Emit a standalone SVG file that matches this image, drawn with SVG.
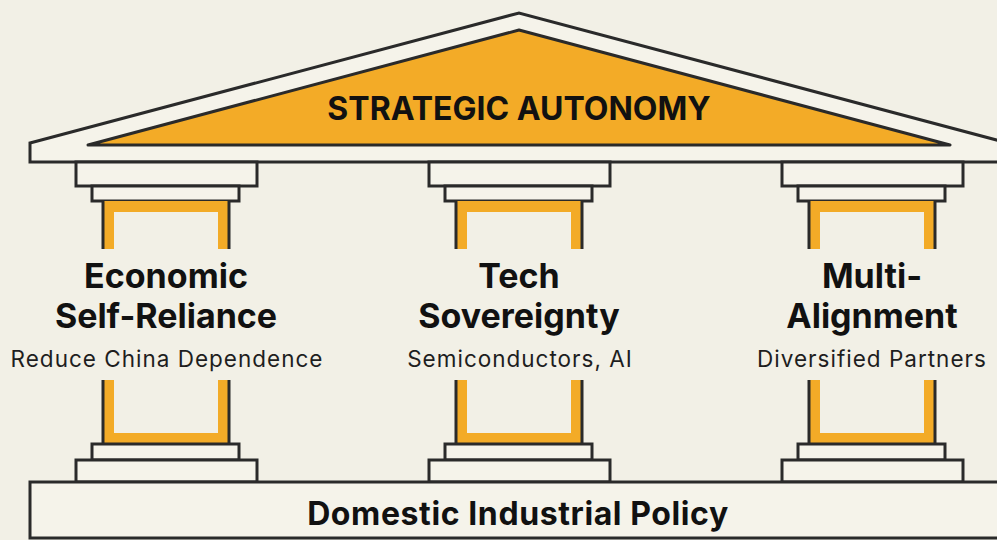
<svg xmlns="http://www.w3.org/2000/svg" width="997" height="540" viewBox="0 0 997 540">
  <style>
    .ln { stroke: #2a2a2a; stroke-width: 3; stroke-linejoin: miter; }
    .slab { fill: #f5f3ea; stroke: #2a2a2a; stroke-width: 3; }
    .orange { fill: #f3ab27; }
    .bg { fill: #f2f0e6; }
    .edge { stroke: #2a2a2a; stroke-width: 3; fill: none; }
    .head { font-family: Inter, "Liberation Sans", sans-serif; font-weight: 700; fill: #111; text-anchor: middle; }
    .sub { font-family: Inter, "Liberation Sans", sans-serif; font-weight: 400; fill: #1e1e1e; text-anchor: middle; font-size: 22.5px; letter-spacing: 1px; }
  </style>
  <defs>
    <g id="column">
      <!-- capital -->
      <rect class="slab" x="-90" y="162" width="181" height="24"/>
      <rect class="slab" x="-74" y="186" width="147" height="15"/>
      <!-- upper shaft -->
      <rect class="orange" x="-63" y="201" width="126" height="48"/>
      <rect class="bg" x="-52" y="212" width="104" height="38"/>
      <line class="edge" x1="-63" y1="201" x2="-63" y2="249"/>
      <line class="edge" x1="63" y1="201" x2="63" y2="249"/>
      <!-- lower shaft -->
      <rect class="orange" x="-63" y="380" width="126" height="64"/>
      <rect class="bg" x="-52" y="379" width="104" height="54"/>
      <line class="edge" x1="-63" y1="380" x2="-63" y2="444"/>
      <line class="edge" x1="63" y1="380" x2="63" y2="444"/>
      <!-- base -->
      <rect class="slab" x="-74" y="444" width="147" height="16"/>
      <rect class="slab" x="-90" y="460" width="181" height="22"/>
    </g>
  </defs>
  <rect width="997" height="540" fill="#f2f0e6"/>

  <g id="roof">
    <polygon class="slab" points="30,143 519,13 1008,143 1008,162 30,162"/>
    <polygon points="88,145 519,30 950,145" fill="#f3ab27" stroke="#2a2a2a" stroke-width="3" stroke-linejoin="round"/>
    <text class="head" x="519" y="120" font-size="32">STRATEGIC AUTONOMY</text>
  </g>

  <g id="pillar-economic">
    <use href="#column" x="166"/>
    <text class="head" x="166" y="288" font-size="34">Economic</text>
    <text class="head" x="166" y="328" font-size="34">Self-Reliance</text>
    <text class="sub" x="167" y="367">Reduce China Dependence</text>
  </g>

  <g id="pillar-tech">
    <use href="#column" x="519"/>
    <text class="head" x="519" y="288" font-size="34">Tech</text>
    <text class="head" x="519" y="328" font-size="34">Sovereignty</text>
    <text class="sub" x="520" y="367">Semiconductors, AI</text>
  </g>

  <g id="pillar-multi">
    <use href="#column" x="872"/>
    <text class="head" x="872" y="288" font-size="34">Multi-</text>
    <text class="head" x="872" y="328" font-size="34">Alignment</text>
    <text class="sub" x="872" y="367">Diversified Partners</text>
  </g>

  <g id="plinth">
    <rect class="slab" x="30" y="482" width="990" height="56"/>
    <text class="head" x="518" y="525" font-size="32" letter-spacing="0.6">Domestic Industrial Policy</text>
  </g>

  <g id="connectors"/>
</svg>
